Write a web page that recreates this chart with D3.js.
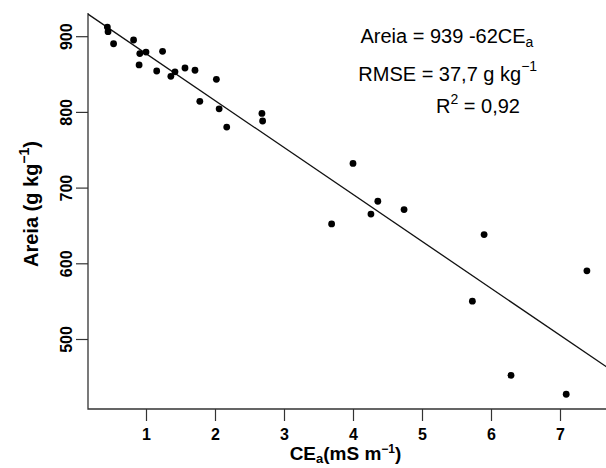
<!DOCTYPE html>
<html>
<head>
<meta charset="utf-8">
<script src="https://d3js.org/d3.v7.min.js"></script>
<style>
  body { margin: 0; background: #fff; }
  svg { display: block; font-family: "Liberation Sans", Arial, sans-serif; }
</style>
</head>
<body>
<div id="scatter"></div>
<script>
// CEa (mS m-1) and Areia (g kg-1)
var cea = [0.44, 0.45, 0.53, 0.82, 0.91, 1.00, 0.90, 1.24, 1.155, 1.36,
    1.42, 1.565, 1.71, 2.02, 1.78, 2.06, 2.17, 2.68, 2.69, 4.00,
    3.69, 4.26, 4.36, 4.74, 5.90, 7.39, 5.73, 6.29, 7.09];
var areia = [912, 906, 890, 895, 877, 879, 862, 880, 854, 847,
    853, 858, 855, 843, 814, 804, 780, 798, 788, 732,
    652, 665, 682, 671, 638, 590, 550, 452, 427];

var xTicks = [1, 2, 3, 4, 5, 6, 7];
var yTicks = [500, 600, 700, 800, 900];

// fitted line: Areia = 939 - 62 CEa
var intercept = 939;
var slope = -62;

var svgWidth = 606;
var svgHeight = 468;

// plot box edges (left / bottom axis, bty = "l")
var box = { left: 88, top: 13, right: 606, bottom: 409 };

var svg = d3.select("#scatter")
    .append("svg")
    .attr("width", svgWidth)
    .attr("height", svgHeight);

// scales
var xScale = d3.scaleLinear()
    .domain([1, 7])
    .range([146, 560]);

var yScale = d3.scaleLinear()
    .domain([500, 900])
    .range([339, 36.2]);

// clip for the plot region
svg.append("clipPath")
    .attr("id", "plotClip")
    .append("rect")
    .attr("x", box.left)
    .attr("y", box.top)
    .attr("width", box.right - box.left)
    .attr("height", box.bottom - box.top);

// axes
var yAxis = d3.axisLeft(yScale).tickValues(yTicks).tickSize(12).tickSizeOuter(0)
    .tickFormat(d3.format("d"));
var xAxis = d3.axisBottom(xScale).tickValues(xTicks).tickSize(12).tickSizeOuter(0)
    .tickFormat(d3.format("d"));

var gy = svg.append("g")
    .attr("transform", `translate(${box.left}, 0)`)
    .call(yAxis);
gy.select(".domain").remove();
gy.selectAll("line").attr("stroke", "#333").attr("stroke-width", 1.2);
gy.selectAll("text")
    .attr("transform", "rotate(-90)")
    .attr("x", 0)
    .attr("y", -16.5)
    .attr("dy", 0)
    .attr("text-anchor", "middle")
    .attr("font-family", "Liberation Sans, Arial, sans-serif")
    .attr("font-size", "16px")
    .attr("font-weight", "bold")
    .attr("fill", "#000");

var gx = svg.append("g")
    .attr("transform", `translate(0, ${box.bottom})`)
    .call(xAxis);
gx.select(".domain").remove();
gx.selectAll("line").attr("stroke", "#333").attr("stroke-width", 1.2);
gx.selectAll("text")
    .attr("y", 31)
    .attr("dy", 0)
    .attr("font-family", "Liberation Sans, Arial, sans-serif")
    .attr("font-size", "16px")
    .attr("font-weight", "bold")
    .attr("fill", "#000");

// L-shaped box
svg.append("path")
    .attr("d", `M${box.left},${box.top}V${box.bottom}H${box.right}`)
    .attr("fill", "none")
    .attr("stroke", "#333")
    .attr("stroke-width", 1.3);

// regression line
var xLo = xScale.invert(box.left);
var xHi = xScale.invert(box.right + 20);
svg.append("line")
    .attr("clip-path", "url(#plotClip)")
    .attr("x1", xScale(xLo))
    .attr("y1", yScale(intercept + slope * xLo))
    .attr("x2", xScale(xHi))
    .attr("y2", yScale(intercept + slope * xHi))
    .attr("stroke", "#111")
    .attr("stroke-width", 1.3);

// points
svg.append("g")
    .selectAll("circle")
    .data(cea)
    .enter()
    .append("circle")
    .attr("cx", d => xScale(d))
    .attr("cy", (d, i) => yScale(areia[i]))
    .attr("r", 3.4)
    .attr("fill", "#000");

// equation text
var eq = svg.append("g")
    .attr("font-size", "20px")
    .attr("fill", "#000");

var t1 = eq.append("text").attr("x", 360.5).attr("y", 42.7);
t1.append("tspan").text("Areia = 939 -62CE");
t1.append("tspan").attr("font-size", "14px").attr("dy", 4).text("a");

var t2 = eq.append("text").attr("x", 358.3).attr("y", 81);
t2.append("tspan").text("RMSE = 37,7 g kg");
t2.append("tspan").attr("font-size", "14px").attr("dy", -10).text("\u22121");

var t3 = eq.append("text").attr("x", 436).attr("y", 113.3);
t3.append("tspan").text("R");
t3.append("tspan").attr("font-size", "14px").attr("dy", -9).text("2");
t3.append("tspan").attr("dy", 9).text(" = 0,92");

// axis titles
var xt = svg.append("text")
    .attr("x", 345.5)
    .attr("y", 460)
    .attr("text-anchor", "middle")
    .attr("font-size", "19px")
    .attr("font-weight", "bold");
xt.append("tspan").text("CE");
xt.append("tspan").attr("font-size", "13px").attr("dy", 3).text("a");
xt.append("tspan").attr("dy", -3).text("(mS m");
xt.append("tspan").attr("font-size", "12px").attr("dy", -7).text("\u22121");
xt.append("tspan").attr("dy", 7).text(")");

var yt = svg.append("text")
    .attr("transform", "translate(38, 204) rotate(-90)")
    .attr("text-anchor", "middle")
    .attr("font-size", "20px")
    .attr("font-weight", "bold");
yt.append("tspan").text("Areia (g kg");
yt.append("tspan").attr("font-size", "14px").attr("dy", -9).text("\u22121");
yt.append("tspan").attr("dy", 9).text(")");
</script>
</body>
</html>
